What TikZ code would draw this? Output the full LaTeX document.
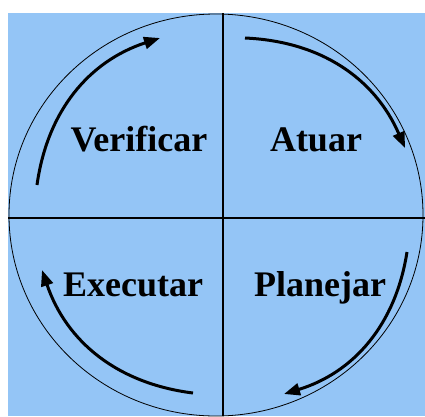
\documentclass[tikz,border=0pt]{standalone}
\usepackage{fontspec}
\newfontfamily\lblfont{Liberation Serif Bold}
\usetikzlibrary{arrows.meta}
\definecolor{bgblue}{RGB}{148,197,246}
\tikzset{
  cyc/.style={line width=3pt, -{Triangle[length=16pt,width=12pt]}, bend left=32},
  lbl/.style={anchor=base, font=\lblfont\fontsize{36}{40}\selectfont, inner sep=0pt},
  axis/.style={line width=1.2pt}
}
\begin{document}
\begin{tikzpicture}[x=1pt,y=-1pt]
\useasboundingbox (0,0) rectangle (425,416);
\fill[bgblue] (8,13) rectangle (425,416);
\coordinate (c) at (216,215);
\begin{scope}
\clip (8,13) rectangle (425,416);
\draw[line width=0.8pt] (c) ellipse [x radius=207pt, y radius=201pt];
\end{scope}
\coordinate (vt) at (223,13);
\coordinate (vb) at (223,416);
\coordinate (hl) at (8,218);
\coordinate (hr) at (425,218);
\draw[axis] (vt) -- (vb);
\draw[axis] (hl) -- (hr);
\node[lbl] (ver) at (139,151) {Verificar};
\node[lbl] (atu) at (316,151) {Atuar};
\node[lbl] (exe) at (133,296) {Executar};
\node[lbl] (pla) at (320,296) {Planejar};
\coordinate (v1) at (37,185);  \coordinate (v2) at (160,38);
\coordinate (a1) at (245,38);  \coordinate (a2) at (405,148);
\coordinate (p1) at (407,252); \coordinate (p2) at (284,394);
\coordinate (e1) at (193,393); \coordinate (e2) at (42,270);
\draw[cyc] (v1) to (v2);
\draw[cyc] (a1) to (a2);
\draw[cyc] (p1) to (p2);
\draw[cyc] (e1) to (e2);
\end{tikzpicture}
\end{document}
